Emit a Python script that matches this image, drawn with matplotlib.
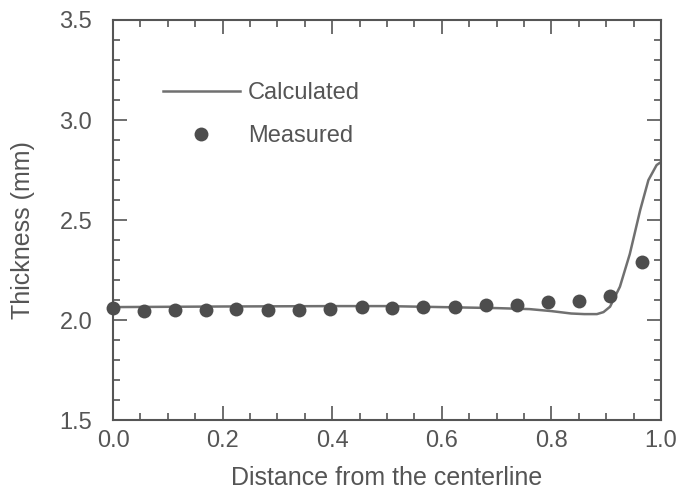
import matplotlib
matplotlib.use('Agg')
import matplotlib.pyplot as plt
from matplotlib.ticker import MultipleLocator

# measured thickness across the strip
meas_x = [0.0, 0.056, 0.113, 0.17, 0.225, 0.282, 0.34, 0.396, 0.454,
          0.509, 0.566, 0.624, 0.681, 0.737, 0.794, 0.85, 0.907, 0.965]
meas_y = [2.06, 2.045, 2.05, 2.05, 2.055, 2.05, 2.05, 2.055, 2.065,
          2.06, 2.065, 2.065, 2.075, 2.075, 2.09, 2.095, 2.12, 2.29]

# calculated profile
calc_x = [0.0, 0.2, 0.4, 0.5, 0.6, 0.7, 0.76, 0.8, 0.836, 0.86, 0.883, 0.895,
          0.907, 0.925, 0.943, 0.962, 0.977, 0.992, 1.0]
calc_y = [2.065, 2.068, 2.07, 2.07, 2.065, 2.06, 2.055, 2.045, 2.033, 2.03, 2.03,
          2.04, 2.067, 2.167, 2.33, 2.55, 2.70, 2.775, 2.79]

plt.rcParams['font.family'] = ['Liberation Sans', 'DejaVu Sans']
TXT = '#555555'

fig = plt.figure(figsize=(6.85, 4.99), dpi=100)
ax = fig.add_axes([0.165, 0.158, 0.8, 0.802])

ax.plot(calc_x, calc_y, color='#707070', lw=1.8, label='Calculated', zorder=2)
ax.plot(meas_x, meas_y, 'o', color='#4d4d4d', ms=10, mec='none',
        label='Measured', zorder=3, clip_on=False)

ax.set_xlim(0, 1.0)
ax.set_ylim(1.5, 3.5)
ax.xaxis.set_major_locator(MultipleLocator(0.2))
ax.xaxis.set_minor_locator(MultipleLocator(0.05))
ax.yaxis.set_major_locator(MultipleLocator(0.5))
ax.yaxis.set_minor_locator(MultipleLocator(0.1))
ax.xaxis.set_major_formatter(lambda v, p: f'{v:.1f}')
ax.yaxis.set_major_formatter(lambda v, p: f'{v:.1f}')

ax.tick_params(which='both', direction='in', top=True, right=True,
               color='#555555', width=1.2, labelcolor=TXT, labelsize=17)
ax.tick_params(which='major', length=10)
ax.tick_params(which='minor', length=5)
ax.tick_params(axis='x', which='major', pad=7)
ax.tick_params(axis='y', which='major', pad=15)
for s in ax.spines.values():
    s.set_color('#555555')
    s.set_linewidth(1.5)

ax.set_xlabel('Distance from the centerline', fontsize=18, color=TXT, labelpad=10)
ax.set_ylabel('Thickness (mm)', fontsize=18, color=TXT)
ax.yaxis.set_label_coords(-0.143, 0.475)

ax.legend(loc='upper left', bbox_to_anchor=(0.091, 0.845), frameon=False,
          fontsize=17, handlelength=3.26, handletextpad=0.35, labelspacing=0.9,
          borderpad=0, borderaxespad=0, labelcolor=TXT)

fig.savefig('out.png', dpi=100, facecolor='white')
